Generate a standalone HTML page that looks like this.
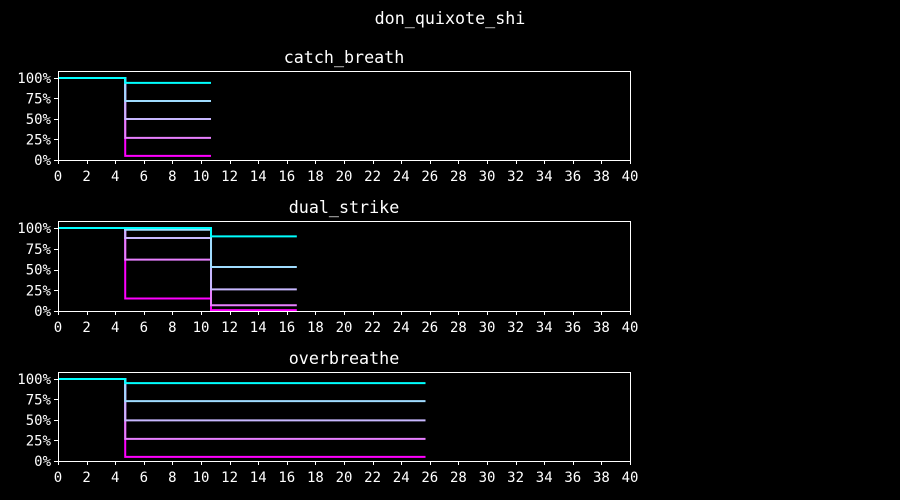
<!DOCTYPE html>
<html><head><meta charset="utf-8"><style>
html,body{margin:0;padding:0;background:#000;}
svg{display:block;font-family:"DejaVu Sans Mono","Liberation Mono",monospace;}
</style></head><body>
<svg id="chart" width="900" height="500" viewBox="0 0 900 500" xmlns="http://www.w3.org/2000/svg">
<rect x="0" y="0" width="900" height="500" fill="#000"/>
<text x="450" y="24" fill="#fff" font-size="16.7" text-anchor="middle">don_quixote_shi</text>
</svg>
<script>
const panelTitles = ["catch_breath", "dual_strike", "overbreathe"];
const seriesColors = ["#ff00ff", "#e880ff", "#c8b8ff", "#a0dcff", "#00ffff"];
// step times (x) per panel, and values per series after each step (first value at t=0)
const stepTimes1 = [0, 4.7, 10.7];
const stepTimes2 = [0, 4.7, 10.7, 16.7];
const stepTimes3 = [0, 4.7, 25.7];
// series order: magenta, pink, lavender, lightblue, cyan
const catchValues = [[1, 0.05], [1, 0.27], [1, 0.50], [1, 0.72], [1, 0.94]];
const dualValues = [[1, 0.15, 0.01], [1, 0.62, 0.07], [1, 0.88, 0.26], [1, 0.98, 0.53], [1, 1.0, 0.90]];
const overValues = [[1, 0.05], [1, 0.27], [1, 0.495], [1, 0.73], [1, 0.95]];
const xTicks = [0,2,4,6,8,10,12,14,16,18,20,22,24,26,28,30,32,34,36,38,40];
const yTicks = [0, 0.25, 0.5, 0.75, 1.0];
const yTickLabels = ["0%", "25%", "50%", "75%", "100%"];

const svg = document.getElementById('chart');
const NS = "http://www.w3.org/2000/svg";
function mk(tag, attrs){const e=document.createElementNS(NS,tag);for(const k in attrs)e.setAttribute(k,attrs[k]);return e;}
const L=58,R=630,XMAX=40,YMAX=1.085;
const panels=[{top:71,bot:160,times:stepTimes1,vals:catchValues},{top:221,bot:311,times:stepTimes2,vals:dualValues},{top:372,bot:461,times:stepTimes3,vals:overValues}];
panels.forEach((p,pi)=>{
  const xs=v=>L+(R-L)*v/XMAX;
  const ys=v=>p.bot-(p.bot-p.top)*v/YMAX;
  const g=mk('g',{});
  
  
  svg.appendChild(g);
  const t=mk('text',{x:(L+R)/2,y:p.top-8,fill:'#fff','font-size':16.7,'text-anchor':'middle'});
  t.textContent=panelTitles[pi];
  
  
  g.appendChild(t);
  p.vals.forEach((vals,si)=>{
    let d='M'+xs(p.times[0])+','+ys(vals[0]);
    for(let i=1;i<p.times.length;i++){
      d+=' H'+xs(p.times[i]);
      if(i<vals.length) d+=' V'+ys(vals[i]);
    }
    const path=mk('path',{d:d,fill:'none',stroke:seriesColors[si],'stroke-width':2});
    
    
    g.appendChild(path);
  });
  const frame=mk('rect',{x:L+0.5,y:p.top+0.5,width:R-L,height:p.bot-p.top,fill:'none',stroke:'#fff','stroke-width':1});
  
  
  g.appendChild(frame);
  xTicks.forEach(v=>{
    const x=Math.round(xs(v))+0.5;
    const tk=mk('line',{x1:x,x2:x,y1:p.bot,y2:p.bot+4,stroke:'#fff'});
    
    
    g.appendChild(tk);
    const lb=mk('text',{x:xs(v),y:p.bot+21,fill:'#fff','font-size':14,'text-anchor':'middle'});
    lb.textContent=v;
    
    
    g.appendChild(lb);
  });
  yTicks.forEach((v,i)=>{
    const y=Math.round(ys(v))+0.5;
    const tk=mk('line',{x1:L-4,x2:L,y1:y,y2:y,stroke:'#fff'});
    
    
    g.appendChild(tk);
    const lb=mk('text',{x:L-7,y:ys(v)+5,fill:'#fff','font-size':14,'text-anchor':'end'});
    lb.textContent=yTickLabels[i];
    
    
    g.appendChild(lb);
  });
});
</script>
</body></html>
